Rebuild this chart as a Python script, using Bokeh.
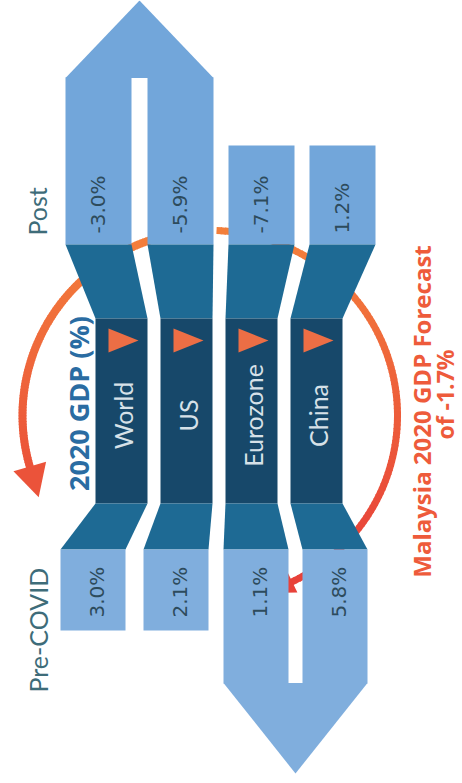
import numpy as np
from bokeh.plotting import figure
from bokeh.models import Range1d, ColumnDataSource
from bokeh.core.properties import value
from bokeh.embed import file_html
from bokeh.resources import INLINE

# ---------------- data ----------------
categories = ["World", "US", "Eurozone", "China"]
pre_covid = [3.0, 2.1, 1.1, 5.8]
post_covid = [-3.0, -5.9, -7.1, 1.2]
malaysia_forecast = -1.7
title_text = "2020 GDP (%)"
stage_labels = ["Pre-COVID", "Post"]

# ---------------- layout ----------------
W, H = 462, 783
post_left = [65, 147, 228, 309]
post_w = 66
mid_left = [95, 160, 225, 290]
mid_w = 52
pre_left = [60, 143, 223, 302]
pre_w = 65
post_top_arrow, post_top_box, post_bottom = 77, 145, 244
mid_top, mid_bottom = 318, 503
pre_top, pre_bottom_box, pre_bottom_arrow = 549, 630, 683
post_tip_y, pre_tip_y = 0, 773

C_LIGHT = "#72A6DA"
C_LIGHT_PRE = "#80AEDD"
C_SLANT = "#1E6A94"
C_MID = "#17486A"
C_TRI = "#EC6E45"

p = figure(width=W, height=H, x_range=Range1d(0, W), y_range=Range1d(H, 0),
           output_backend="svg", toolbar_location=None, min_border=0)
p.axis.visible = False
p.grid.visible = False
p.outline_line_color = None
p.background_fill_color = "white"
p.border_fill_color = "white"

# ---------------- orange circular arrows ----------------
cx, cy, rx, ry = 209.5, 415.0, 187.5, 185.0
orange = np.array([244, 128, 60])
red = np.array([232, 66, 58])


def col_at(y):
    f = np.clip((y - 230) / 330.0, 0, 1)
    c = orange * (1 - f) + red * f
    return "#%02x%02x%02x" % tuple(int(v) for v in c)


def arc(t0, t1, lw, L, hw, n=120):
    t = np.radians(np.linspace(t0, t1, n))
    x = cx + rx * np.cos(t)
    y = cy + ry * np.sin(t)
    xs, ys, cs = [], [], []
    for i in range(n - 1):
        xs.append([x[i], x[i + 1] + (x[i + 1] - x[i]) * 0.3])
        ys.append([y[i], y[i + 1] + (y[i + 1] - y[i]) * 0.3])
        cs.append(col_at((y[i] + y[i + 1]) / 2))
    p.multi_line(xs, ys, line_color=cs, line_width=lw)
    # arrow head
    te = np.radians(t1)
    sgn = 1 if t1 > t0 else -1
    d = np.array([-rx * np.sin(te), ry * np.cos(te)]) * sgn
    d = d / np.linalg.norm(d)
    nrm = np.array([-d[1], d[0]])
    e = np.array([x[-1], y[-1]])
    tip = e + d * L
    b1 = e + nrm * hw
    b2 = e - nrm * hw
    p.patch([b1[0], tip[0], b2[0]], [b1[1], tip[1], b2[1]],
             fill_color=col_at(e[1]), line_color=None)


arc(-90, -196, 8, 32, 17)   # left arc, counter-clockwise on screen
arc(-88, 64, 7, 26, 12)     # right arc, clockwise on screen

# ---------------- ribbons ----------------
n = len(categories)
for i in range(n):
    pl, pr = post_left[i], post_left[i] + post_w
    ml, mr = mid_left[i], mid_left[i] + mid_w
    ql, qr = pre_left[i], pre_left[i] + pre_w
    top = post_top_arrow if i < 2 else post_top_box
    bot = pre_bottom_box if i < 2 else pre_bottom_arrow
    p.patch([pl, pr, pr, pl], [top, top, post_bottom, post_bottom],
            fill_color=C_LIGHT, line_color=None)
    p.patch([pl, pr, mr, ml], [post_bottom, post_bottom, mid_top, mid_top],
            fill_color=C_SLANT, line_color=None)
    p.patch([ml, mr, mr, ml], [mid_top, mid_top, mid_bottom, mid_bottom],
            fill_color=C_MID, line_color=None)
    p.patch([ml, mr, qr, ql], [mid_bottom, mid_bottom, pre_top, pre_top],
            fill_color=C_SLANT, line_color=None)
    p.patch([ql, qr, qr, ql], [pre_top, pre_top, bot, bot],
            fill_color=C_LIGHT_PRE, line_color=None)

# top arrow head (World + US)
a_l, a_r = post_left[0], post_left[1] + post_w
p.patch([a_l, (a_l + a_r) / 2, a_r], [post_top_arrow + 0.5, post_tip_y, post_top_arrow + 0.5],
        fill_color=C_LIGHT, line_color=None)
# bottom arrow head (Eurozone + China)
b_l, b_r = pre_left[2], pre_left[3] + pre_w
p.patch([b_l, (b_l + b_r) / 2, b_r], [pre_bottom_arrow - 0.5, pre_tip_y, pre_bottom_arrow - 0.5],
        fill_color=C_LIGHT_PRE, line_color=None)

# orange triangles in the middle band
tri_xs, tri_ys = [], []
for i in range(n):
    b = mid_left[i] + 13
    tri_xs.append([b, b + 30, b])
    tri_ys.append([328, 340, 352])
p.patches(tri_xs, tri_ys, fill_color=C_TRI, line_color=None)

# ---------------- texts ----------------
ang = np.pi / 2
post_src = ColumnDataSource(dict(
    x=[post_left[i] + post_w / 2 - 1 for i in range(n)],
    y=[233] * n,
    t=[f"{v:.1f}%" for v in post_covid]))
p.text("x", "y", text="t", source=post_src, angle=ang, text_align="left",
       text_baseline="middle", text_font=value("DejaVu Sans"),
       text_font_size="20px", text_color="#2D4B5C")

pre_src = ColumnDataSource(dict(
    x=[pre_left[i] + pre_w / 2 + 4 for i in range(n)],
    y=[617] * n,
    t=[f"{v:.1f}%" for v in pre_covid]))
p.text("x", "y", text="t", source=pre_src, angle=ang, text_align="left",
       text_baseline="middle", text_font=value("DejaVu Sans"),
       text_font_size="20px", text_color="#2D4B5C")

cat_src = ColumnDataSource(dict(
    x=[mid_left[i] + mid_w / 2 + 1 for i in range(n)],
    y=[415] * n,
    t=categories))
p.text("x", "y", text="t", source=cat_src, angle=ang, text_align="center",
       text_baseline="middle", text_font=value("Lato"),
       text_font_size="25px", text_color="#D6E1E8")

p.text([36], [235], text=[stage_labels[1]], angle=ang, text_align="left",
       text_baseline="middle", text_font=value("Lato"),
       text_font_size="25px", text_color="#3E6C79")
p.text([37], [692], text=[stage_labels[0]], angle=ang, text_align="left",
       text_baseline="middle", text_font=value("Lato"),
       text_font_size="25px", text_color="#3E6C79")

p.text([78], [403], text=[title_text], angle=ang, text_align="center",
       text_baseline="middle", text_font=value("Open Sans"),
       text_font_style="bold", text_font_size="27px", text_color="#2A6CA2")

p.text([421], [411], text=["Malaysia 2020 GDP Forecast"], angle=ang,
       text_align="center", text_baseline="middle", text_font=value("Open Sans"),
       text_font_style="bold", text_font_size="24px", text_color="#EE5B3B")
p.text([444], [394], text=[f"of {malaysia_forecast:.1f}%"], angle=ang,
       text_align="center", text_baseline="middle", text_font=value("Open Sans"),
       text_font_style="bold", text_font_size="23px", text_color="#EE5B3B")

open("out.html", "w").write(file_html(p, INLINE))
